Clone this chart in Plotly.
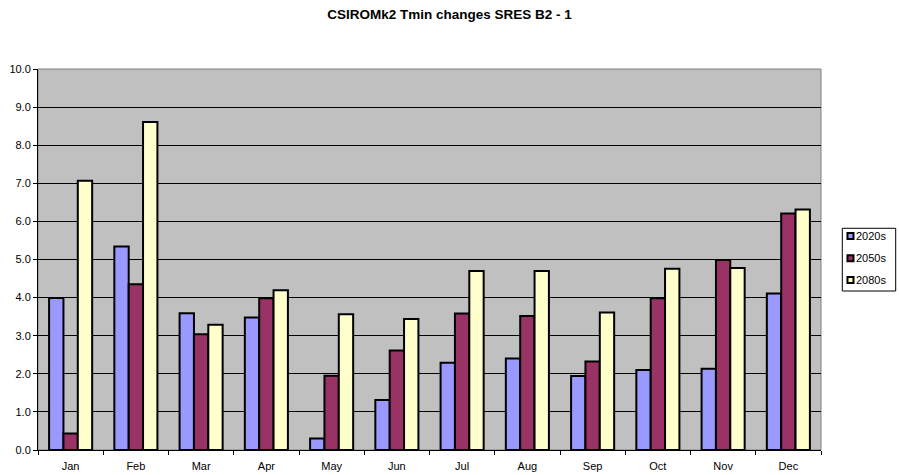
import plotly.graph_objects as go

months = ["Jan", "Feb", "Mar", "Apr", "May", "Jun", "Jul", "Aug", "Sep", "Oct", "Nov", "Dec"]
s2020 = [3.99, 5.34, 3.59, 3.48, 0.30, 1.31, 2.29, 2.40, 1.94, 2.10, 2.13, 4.11]
s2050 = [0.43, 4.35, 3.04, 3.98, 1.95, 2.61, 3.58, 3.52, 2.32, 3.98, 4.99, 6.21]
s2080 = [7.07, 8.61, 3.29, 4.19, 3.56, 3.44, 4.70, 4.70, 3.61, 4.76, 4.78, 6.31]

series = [
    ("2020s", s2020, "#9999FF"),
    ("2050s", s2050, "#993366"),
    ("2080s", s2080, "#FFFFCC"),
]

FONT = "Arial, Liberation Sans, sans-serif"

fig = go.Figure()
for name, vals, col in series:
    fig.add_trace(go.Bar(
        x=months, y=vals, name=name,
        marker=dict(color=col, line=dict(color="black", width=2)),
    ))

fig.update_layout(
    width=899, height=475,
    margin=dict(l=38, r=78, t=69, b=25, autoexpand=False),
    paper_bgcolor="white",
    plot_bgcolor="#C0C0C0",
    barmode="group",
    bargap=0.34,
    bargroupgap=0,
    font=dict(family=FONT, size=11, color="black"),
    title=dict(
        text="<b>CSIROMk2 Tmin changes SRES B2 - 1</b>",
        x=0.5, xref="container", y=0.971, yanchor="middle",
        font=dict(size=13.5, color="black"),
    ),
    showlegend=False,
)

fig.update_xaxes(
    showgrid=False,
    showline=True, linecolor="black", linewidth=1,
    ticks="outside", tickson="boundaries", ticklen=4, tickcolor="black",
    ticklabelstandoff=6,
)
fig.update_yaxes(
    range=[0, 10], dtick=1, tickformat=".1f",
    showgrid=True, gridcolor="black", gridwidth=1,
    showline=True, linecolor="black", linewidth=1,
    ticks="outside", ticklen=4, tickcolor="black",
    zeroline=False,
)

# gray frame around the plotting area
fig.add_shape(type="rect", xref="paper", yref="paper", x0=0, x1=1, y0=0, y1=1,
              line=dict(color="#808080", width=1), layer="below")

# legend box drawn at the right of the plot
fig.add_shape(type="rect", xref="paper", yref="paper",
              x0=1.0272, x1=1.0954, y0=0.4173, y1=0.5819,
              line=dict(color="black", width=1), fillcolor="white")
row_y = [0.5617, 0.5031, 0.4462]
for (name, _, col), yy in zip(series, row_y):
    fig.add_shape(type="rect", xref="paper", yref="paper",
                  x0=1.0338, x1=1.0415, y0=yy - 0.0079, y1=yy + 0.0079,
                  line=dict(color="black", width=2), fillcolor=col)
    fig.add_annotation(text=name, xref="paper", yref="paper", x=1.0425, y=yy,
                       xanchor="left", yanchor="middle", showarrow=False,
                       font=dict(family=FONT, size=11, color="black"))

fig.write_html("out.html")
